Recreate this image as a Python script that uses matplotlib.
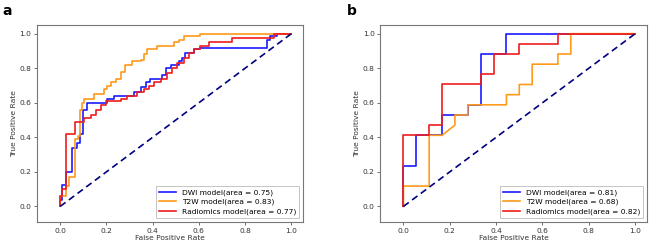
import matplotlib
matplotlib.use("Agg")
import matplotlib.pyplot as plt
import numpy as np

# Panel a (step curves, points after each vertical jump)
a_dwi_fpr = [0.0, 0.0, 0.01, 0.026, 0.05, 0.072, 0.086, 0.10, 0.115, 0.204, 0.233, 0.32, 0.348, 0.373, 0.39,
             0.44, 0.456, 0.478, 0.514, 0.528, 0.542, 0.578, 0.607, 0.895, 0.909, 0.938, 1.0]
a_dwi_tpr = [0.0, 0.04, 0.125, 0.2, 0.34, 0.37, 0.42, 0.56, 0.6, 0.62, 0.64, 0.66, 0.69, 0.72, 0.74,
             0.76, 0.8, 0.82, 0.84, 0.86, 0.89, 0.91, 0.92, 0.965, 0.985, 1.0, 1.0]
a_t2w_fpr = [0.0, 0.0, 0.01, 0.024, 0.039, 0.063, 0.078, 0.086, 0.096, 0.104, 0.147, 0.19, 0.204, 0.219,
             0.24, 0.262, 0.279, 0.312, 0.348, 0.363, 0.377, 0.42, 0.492, 0.514, 0.535, 0.607, 1.0]
a_t2w_tpr = [0.0, 0.06, 0.06, 0.12, 0.17, 0.39, 0.41, 0.56, 0.6, 0.62, 0.65, 0.68, 0.7, 0.72,
             0.74, 0.78, 0.82, 0.84, 0.85, 0.88, 0.91, 0.93, 0.95, 0.965, 0.985, 1.0, 1.0]
a_rad_fpr = [0.0, 0.0, 0.01, 0.024, 0.063, 0.104, 0.132, 0.154, 0.176, 0.197, 0.262, 0.29, 0.334, 0.363,
             0.384, 0.406, 0.435, 0.463, 0.485, 0.506, 0.535, 0.557, 0.578, 0.607, 0.643, 0.744, 0.924, 1.0]
a_rad_tpr = [0.0, 0.06, 0.1, 0.42, 0.49, 0.51, 0.53, 0.56, 0.59, 0.61, 0.62, 0.64, 0.66, 0.68,
             0.7, 0.72, 0.74, 0.77, 0.8, 0.83, 0.86, 0.89, 0.91, 0.93, 0.95, 0.975, 1.0, 1.0]

# Panel b (explicit vertices)
b_dwi_fpr = [0, 0, 1/18, 1/18, 3/18, 3/18, 5/18, 5/18, 6/18, 6/18, 8/18, 8/18, 1]
b_dwi_tpr = [0, 4/17, 4/17, 7/17, 7/17, 9/17, 9/17, 10/17, 10/17, 15/17, 15/17, 1, 1]
b_t2w_fpr = [0, 0, 2/18, 2/18, 3/18, 4/18, 4/18, 5/18, 5/18, 8/18, 8/18, 9/18, 9/18, 10/18, 10/18,
             12/18, 12/18, 13/18, 13/18, 1]
b_t2w_tpr = [0, 2/17, 2/17, 7/17, 7/17, 8/17, 9/17, 9/17, 10/17, 10/17, 11/17, 11/17, 12/17, 12/17, 14/17,
             14/17, 15/17, 15/17, 1, 1]
b_rad_fpr = [0, 0, 2/18, 2/18, 3/18, 3/18, 6/18, 6/18, 7/18, 7/18, 9/18, 9/18, 12/18, 12/18, 1]
b_rad_tpr = [0, 7/17, 7/17, 8/17, 8/17, 12/17, 12/17, 13/17, 13/17, 15/17, 15/17, 16/17, 16/17, 1, 1]

a_labels = ["DWI model(area = 0.75)", "T2W model(area = 0.83)", "Radiomics model(area = 0.77)"]
b_labels = ["DWI model(area = 0.81)", "T2W model(area = 0.68)", "Radiomics model(area = 0.82)"]
colors = ["#1a1aff", "#ff9a1a", "#ee1c1c"]
ticks = [0.0, 0.2, 0.4, 0.6, 0.8, 1.0]

fig = plt.figure(figsize=(6.5, 2.48), dpi=100)
ax_a = fig.add_axes([0.057, 0.105, 0.409, 0.794])
ax_b = fig.add_axes([0.585, 0.105, 0.410, 0.794])

fs = 5.4

def style(ax):
    ax.set_xlim(-0.1, 1.05)
    ax.set_ylim(-0.09, 1.05)
    ax.set_xticks(ticks)
    ax.set_yticks(ticks)
    ax.set_xticklabels([f"{t:.1f}" for t in ticks])
    ax.set_yticklabels([f"{t:.1f}" for t in ticks])
    ax.tick_params(labelsize=fs, length=2, width=0.5, colors="#333333", pad=2)
    for s in ax.spines.values():
        s.set_color("#777777")
        s.set_linewidth(0.8)
    ax.set_xlabel("False Positive Rate", fontsize=fs, color="#333333", labelpad=1)
    ax.set_ylabel("True Positive Rate", fontsize=fs, color="#333333", labelpad=2)
    ax.plot([0, 1], [0, 1], color="#000080", lw=1.2, ls=(0, (4, 2.5)))
    leg = ax.legend(loc="lower right", fontsize=fs, frameon=True, fancybox=False,
                    edgecolor="#aaaaaa", handlelength=2.2, borderpad=0.4, labelspacing=0.4)
    leg.get_frame().set_linewidth(0.6)

ax_a.step(a_dwi_fpr, a_dwi_tpr, where="post", color=colors[0], lw=1.2, label=a_labels[0])
ax_a.step(a_t2w_fpr, a_t2w_tpr, where="post", color=colors[1], lw=1.2, label=a_labels[1])
ax_a.step(a_rad_fpr, a_rad_tpr, where="post", color=colors[2], lw=1.2, label=a_labels[2])
style(ax_a)

ax_b.plot(b_dwi_fpr, b_dwi_tpr, color=colors[0], lw=1.2, label=b_labels[0])
ax_b.plot(b_t2w_fpr, b_t2w_tpr, color=colors[1], lw=1.2, label=b_labels[1])
ax_b.plot(b_rad_fpr, b_rad_tpr, color=colors[2], lw=1.2, label=b_labels[2])
style(ax_b)

fig.text(0.003, 0.985, "a", fontsize=10, fontweight="bold", va="top", ha="left")
fig.text(0.533, 0.985, "b", fontsize=10, fontweight="bold", va="top", ha="left")

fig.savefig("out.png", dpi=100)
